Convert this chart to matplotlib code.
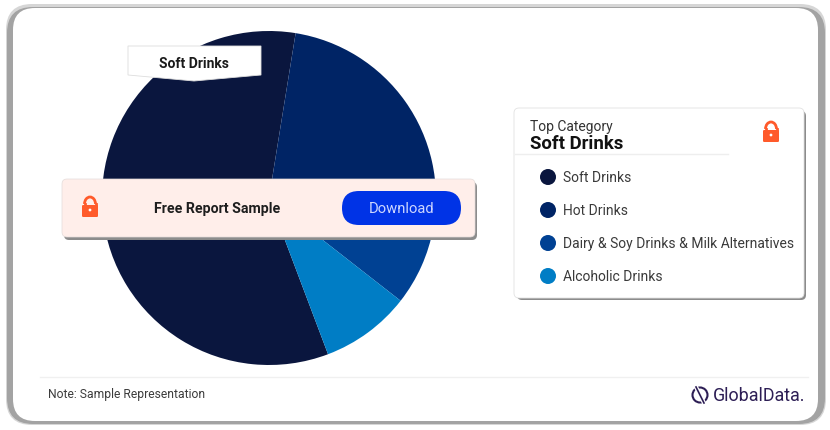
import matplotlib
matplotlib.use('Agg')
import matplotlib.pyplot as plt
from matplotlib.patches import FancyBboxPatch, Polygon, Circle, Arc

plt.rcParams['font.family'] = ['Roboto', 'DejaVu Sans']

# values
categories = ['Soft Drinks', 'Hot Drinks', 'Dairy & Soy Drinks & Milk Alternatives', 'Alcoholic Drinks']
shares = [58.3, 25.3, 7.7, 8.7]
colors = ['#0a163e', '#002465', '#004193', '#007dc5']

W, H = 830, 431
fig = plt.figure(figsize=(W / 100, H / 100), dpi=100)
fig.patch.set_facecolor('white')

# background axes in pixel coords (frame)
bg = fig.add_axes([0, 0, 1, 1], zorder=0)
bg.set_xlim(0, W)
bg.set_ylim(H, 0)
bg.axis('off')


def rbox(ax, x0, y0, x1, y1, r, fc, ec='none', lw=0, z=1):
    p = FancyBboxPatch((x0 + r, y0 + r), x1 - x0 - 2 * r, y1 - y0 - 2 * r,
                       boxstyle='round,pad=%f,rounding_size=%f' % (r, r),
                       fc=fc, ec=ec, lw=lw, zorder=z)
    ax.add_patch(p)


rbox(bg, 6, 5, 826, 426, 26, '#d6d6d6', z=1)
rbox(bg, 7, 8, 825, 425, 26, '#a3a3a3', z=2)
rbox(bg, 13, 9, 818, 422, 22, 'white', z=3)
bg.plot([40, 808], [378, 378], color='#f0f0f0', lw=1, zorder=4)

# pie
cx, cy, rad = 269, 199, 167
pie_ax = fig.add_axes([(cx - rad) / W, 1 - (cy + rad) / H, 2 * rad / W, 2 * rad / H], zorder=1)
pie_ax.pie(shares, colors=colors, startangle=-69.3, counterclock=False, radius=1,
           wedgeprops={'linewidth': 0})
pie_ax.set_xlim(-1, 1)
pie_ax.set_ylim(-1, 1)

# overlay for cards and text, nudged 1px down
ov = fig.add_axes([0, 0, 1, 1], zorder=2)
ov.set_xlim(0, W)
ov.set_ylim(H - 1, -1)
ov.axis('off')
ov.patch.set_alpha(0)


def lock(ax, x, y, s=1.0):
    ax.add_patch(FancyBboxPatch((x - 8 * s, y - 2 * s), 16 * s, 12 * s,
                                boxstyle='round,pad=0,rounding_size=1.2',
                                fc='#ff5a2b', ec='none', zorder=8))
    ax.add_patch(Arc((x, y - 3 * s), 11 * s, 14 * s, theta1=180, theta2=360,
                     color='#ff5a2b', lw=2, zorder=8))
    ax.plot([x - 5.5 * s, x - 5.5 * s], [y - 3 * s, y - 2 * s], color='#ff5a2b', lw=2, zorder=8)
    ax.plot([x + 5.5 * s, x + 5.5 * s], [y - 3 * s, y - 2 * s], color='#ff5a2b', lw=2, zorder=8)
    ax.add_patch(Circle((x, y + 3 * s), 1.4 * s, fc='white', ec='none', zorder=9))


# callout label
ov.add_patch(Polygon([(128, 46), (261, 46), (261, 75), (194, 81), (128, 75)],
                     closed=True, fc='white', ec='#dddddd', lw=0.6, zorder=5))
ov.text(194, 62.5, 'Soft Drinks', ha='center', va='center', fontsize=10,
        fontweight='bold', color='#1a1a1a', zorder=6)

# banner
rbox(ov, 64, 182, 477, 240, 5, '#8c8c8c', z=4)
rbox(ov, 62, 179, 475, 237, 5, '#ffeeea', ec='#e4dcda', lw=0.5, z=5)
lock(ov, 90, 207, 1.0)
ov.text(217, 208, 'Free Report Sample', ha='center', va='center', fontsize=10.2,
        fontweight='bold', color='#1e1e1e', zorder=6)
rbox(ov, 342, 191, 461, 225, 17, '#0033e6', z=6)
ov.text(401.5, 208, 'Download', ha='center', va='center', fontsize=10.6,
        color='#cdd6ff', zorder=7)

# legend card
rbox(ov, 517, 111, 806, 300, 5, '#8c8c8c', z=4)
rbox(ov, 514, 108, 804, 298, 5, 'white', ec='#e2e2e2', lw=0.6, z=5)
ov.text(530, 125.5, 'Top Category', ha='left', va='center', fontsize=10, color='#333333', zorder=6)
ov.text(530, 143, categories[0], ha='left', va='center', fontsize=13.4,
        fontweight='bold', color='#111111', zorder=6)
ov.plot([515, 728], [153.5, 153.5], color='#eeeeee', lw=1, zorder=6)
lock(ov, 771, 132, 1.0)

legend_y = [177, 210, 243, 276]
for name, col, ly in zip(categories, colors, legend_y):
    ov.add_patch(Circle((548, ly), 8, fc=col, ec='none', zorder=6))
    ov.text(563, ly, name, ha='left', va='center', fontsize=10, color='#3a3a3a', zorder=6)

# footer
ov.text(48, 393.5, 'Note: Sample Representation', ha='left', va='center', fontsize=8.7,
        color='#3c3c3c', zorder=6)
ov.add_patch(Circle((700, 395), 7.5, fc='none', ec='#2d1e55', lw=1.5, zorder=6))
ov.plot([695, 705], [385, 405], color='white', lw=3, zorder=7)
ov.plot([696, 704], [387, 403], color='#2d1e55', lw=1.2, zorder=8)
ov.text(713, 395, 'GlobalData.', ha='left', va='center', fontsize=12.9,
        color='#2d1e55', zorder=6)

fig.savefig('out.png', dpi=100)
